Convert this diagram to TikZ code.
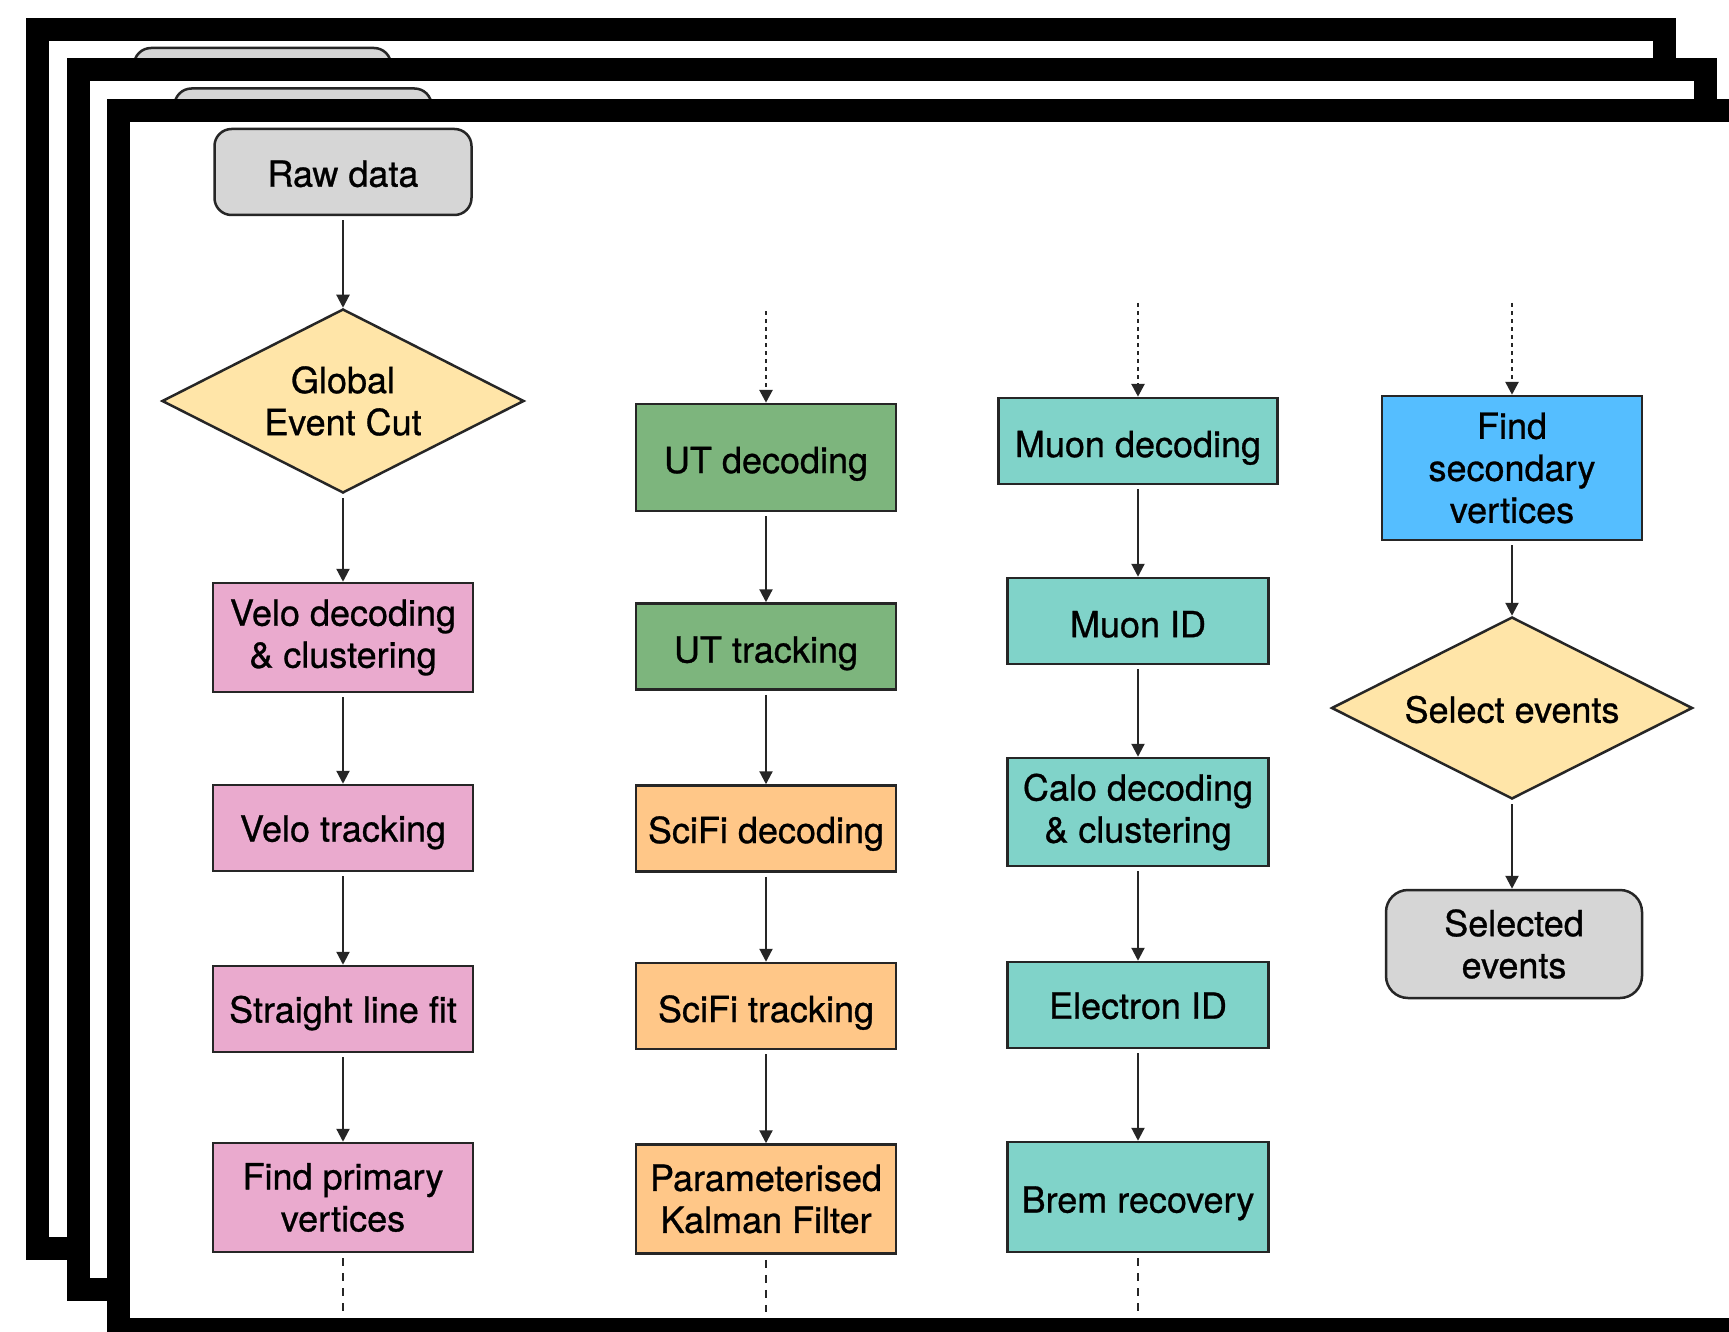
\documentclass[tikz,border=0pt]{standalone}
\usepackage{fontspec}
\setmainfont{TeX Gyre Heros}
\newfontfamily\stagefont{TeX Gyre Heros}[FakeBold=0.8]
\usetikzlibrary{shapes.geometric,arrows.meta}
\definecolor{termgray}{HTML}{D6D6D6}
\definecolor{cutyellow}{HTML}{FFE5A8}
\definecolor{velopink}{HTML}{EAAACE}
\definecolor{utgreen}{HTML}{7DB57D}
\definecolor{scifiorange}{HTML}{FFC788}
\definecolor{pidteal}{HTML}{80D3C9}
\definecolor{svblue}{HTML}{55BEFF}
\begin{document}
\begin{tikzpicture}[x=1pt,y=-1pt,
  every node/.style={font=\stagefont\fontsize{36}{42}\selectfont, align=center, inner sep=0pt},
  % lowers the label inside its box by #1 pt
  drop/.style={execute at begin node={\rule{0pt}{\dimexpr 26pt+#1pt*2\relax}}},
  frame/.style={draw=black, fill=white, line width=23pt},
  term/.style={draw=black!85, fill=termgray, line width=2.5pt, rounded corners=17pt,
    minimum width=257pt, minimum height=86pt},
  gate/.style={draw=black!85, fill=cutyellow, line width=2.5pt, diamond, aspect=1.97,
    minimum width=362pt, minimum height=184pt},
  stage/.style={draw=black!85, line width=2.5pt, minimum width=260pt, minimum height=86pt},
  tall/.style={minimum height=109pt},
  flow/.style={draw=black!85, line width=2.2pt, -{Triangle[length=13pt,width=13pt]},
    shorten <=4pt},
  feed/.style={flow, line width=2.8pt, dash pattern=on 4pt off 4pt, shorten <=0pt},
  cont/.style={draw=black!85, line width=2.4pt, dash pattern=on 8pt off 7pt, shorten <=5pt}
]
\clip (0,0) rectangle (1729,1332);
\fill[white] (0,0) rectangle (1729,1332);

% stacked event frames, each with its raw-data box peeking above the next one
\foreach \k in {0,1} {
  \draw[frame] (37.5+40.5*\k, 29.5+40.5*\k) rectangle (1664.5+40.5*\k, 1248.5+40.5*\k);
  \draw[draw=black!85, fill=termgray, line width=2.5pt, rounded corners=17pt]
    (215-81+40.5*\k, 129-81+40.5*\k) rectangle (472-81+40.5*\k, 215-81+40.5*\k);
}
\draw[frame] (118.5,110.5) rectangle (1745.5,1329.5);

% column 1: Velo
\node[term, drop=2] (raw) at (343,172) {Raw data};
\node[gate, drop=0.5] (gec) at (343,401) {Global\\Event Cut};
\node[stage, tall, drop=5, fill=velopink] (vdec) at (343,637.5) {Velo decoding\\\& clustering};
\node[stage, drop=4.5, fill=velopink] (vtrk) at (343,828) {Velo tracking};
\node[stage, drop=4.5, fill=velopink] (slf) at (343,1009) {Straight line fit};
\node[stage, tall, drop=2, fill=velopink] (pv) at (343,1197.5) {Find primary\\vertices};
\coordinate (pvout) at (343,1312);

% column 2: UT and SciFi
\coordinate (utin) at (766,311);
\node[stage, minimum height=107pt, drop=6.5, fill=utgreen] (utd) at (766,457.5) {UT decoding};
\node[stage, drop=7, fill=utgreen] (utt) at (766,646.5) {UT tracking};
\node[stage, drop=5.5, fill=scifiorange] (sfd) at (766,828.5) {SciFi decoding};
\node[stage, drop=7, fill=scifiorange] (sft) at (766,1006) {SciFi tracking};
\node[stage, tall, drop=1.5, fill=scifiorange] (pkf) at (766,1199) {Parameterised\\Kalman Filter};
\coordinate (pkfout) at (766,1312);

% column 3: particle identification
\coordinate (muin) at (1138,303);
\node[stage, minimum width=279pt, drop=7, fill=pidteal] (mud) at (1138,441) {Muon decoding};
\node[stage, minimum width=261pt, drop=3.5, fill=pidteal] (muid) at (1138,621) {Muon ID};
\node[stage, minimum width=261pt, minimum height=108pt, drop=4, fill=pidteal] (calo) at (1138,812) {Calo decoding\\\& clustering};
\node[stage, minimum width=261pt, drop=1, fill=pidteal] (eid) at (1138,1005) {Electron ID};
\node[stage, minimum width=261pt, minimum height=110pt, drop=6.5, fill=pidteal] (brem) at (1138,1197) {Brem recovery};
\coordinate (bremout) at (1138,1312);

% column 4: selection
\coordinate (svin) at (1512,303);
\node[stage, minimum height=144pt, drop=2.5, fill=svblue] (fsv) at (1512,468) {Find\\secondary\\vertices};
\node[gate, aspect=1.98, minimum width=361pt, minimum height=182pt, drop=2] (sel) at (1512,708) {Select events};
\node[term, minimum width=256pt, minimum height=108pt, rounded corners=22pt, drop=1] (out) at (1514,944) {Selected\\events};

% connectors
\draw[flow] (raw) -- (gec);
\draw[flow] (gec) -- (vdec);
\draw[flow] (vdec) -- (vtrk);
\draw[flow] (vtrk) -- (slf);
\draw[flow] (slf) -- (pv);
\draw[cont] (pv) -- (pvout);

\draw[feed] (utin) -- (utd);
\draw[flow] (utd) -- (utt);
\draw[flow] (utt) -- (sfd);
\draw[flow] (sfd) -- (sft);
\draw[flow] (sft) -- (pkf);
\draw[cont] (pkf) -- (pkfout);

\draw[feed] (muin) -- (mud);
\draw[flow] (mud) -- (muid);
\draw[flow] (muid) -- (calo);
\draw[flow] (calo) -- (eid);
\draw[flow] (eid) -- (brem);
\draw[cont] (brem) -- (bremout);

\draw[feed] (svin) -- (fsv);
\draw[flow] (fsv) -- (sel);
\draw[flow] (sel.south) -- (sel.south |- out.north);
\end{tikzpicture}
\end{document}
